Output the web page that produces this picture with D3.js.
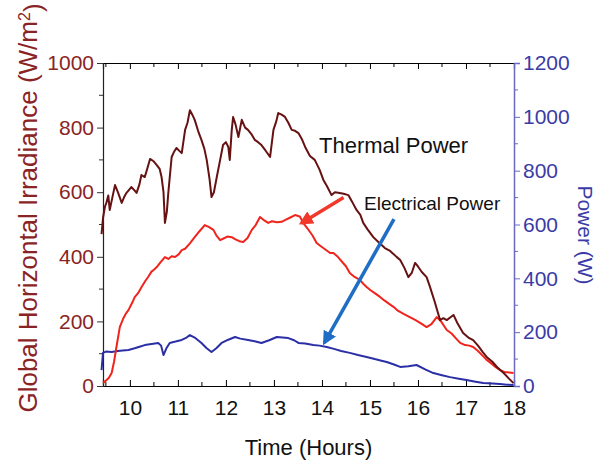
<!DOCTYPE html>
<html>
<head>
<meta charset="utf-8">
<script src="https://cdn.jsdelivr.net/npm/d3@7"></script>
<style>
  body { margin: 0; background: #fff; }
  svg { font-family: "Liberation Sans", Arial, sans-serif; }
</style>
</head>
<body>
<div id="chart"></div>
<script>
// Global horizontal irradiance (W/m2), left axis
var ghiTime = [9.41, 9.44, 9.48, 9.51, 9.55, 9.58, 9.63, 9.69, 9.75, 9.83, 9.88, 9.93, 10.03, 10.1, 10.14, 10.2, 10.24, 10.31, 10.36, 10.42, 10.5, 10.56, 10.62, 10.66, 10.7, 10.73, 10.77, 10.8, 10.87, 10.92, 10.97, 11.03, 11.08, 11.15, 11.2, 11.25, 11.3, 11.35, 11.42, 11.49, 11.55, 11.6, 11.66, 11.7, 11.75, 11.81, 11.88, 11.94, 12.0, 12.05, 12.08, 12.12, 12.15, 12.2, 12.26, 12.33, 12.4, 12.46, 12.53, 12.6, 12.67, 12.74, 12.82, 12.92, 12.99, 13.05, 13.09, 13.16, 13.23, 13.3, 13.37, 13.44, 13.51, 13.58, 13.65, 13.75, 13.85, 13.95, 14.03, 14.1, 14.2, 14.27, 14.34, 14.45, 14.55, 14.63, 14.72, 14.8, 14.86, 14.95, 15.07, 15.18, 15.31, 15.42, 15.56, 15.63, 15.72, 15.8, 15.87, 15.94, 16.0, 16.08, 16.18, 16.25, 16.35, 16.46, 16.53, 16.6, 16.67, 16.74, 16.82, 16.94, 17.05, 17.15, 17.25, 17.35, 17.43, 17.55, 17.65, 17.71, 17.8, 17.9, 17.99];
var ghiValue = [470, 520, 555, 567, 590, 545, 580, 622, 600, 567, 585, 598, 616, 605, 598, 625, 653, 647, 672, 703, 695, 684, 672, 647, 600, 505, 540, 598, 709, 725, 737, 728, 721, 793, 815, 854, 840, 824, 790, 762, 735, 700, 640, 585, 600, 647, 700, 746, 755, 740, 700, 790, 833, 810, 771, 824, 800, 793, 780, 762, 755, 746, 730, 709, 793, 820, 845, 840, 833, 815, 793, 790, 783, 765, 740, 712, 700, 670, 638, 620, 591, 600, 598, 595, 591, 570, 545, 530, 505, 485, 461, 445, 427, 418, 399, 390, 365, 337, 350, 381, 370, 353, 337, 307, 260, 204, 210, 204, 212, 220, 195, 164, 150, 142, 125, 105, 90, 75, 58, 50, 38, 22, 9];

// Thermal power (W), right axis
var thTime = [9.44, 9.5, 9.56, 9.62, 9.67, 9.72, 9.79, 9.86, 9.92, 9.97, 10.05, 10.1, 10.17, 10.25, 10.32, 10.38, 10.45, 10.5, 10.56, 10.64, 10.73, 10.8, 10.87, 10.94, 11.02, 11.08, 11.15, 11.25, 11.35, 11.45, 11.56, 11.65, 11.74, 11.8, 11.88, 11.95, 12.03, 12.12, 12.2, 12.28, 12.36, 12.45, 12.54, 12.62, 12.71, 12.8, 12.88, 12.96, 13.06, 13.16, 13.25, 13.33, 13.44, 13.54, 13.61, 13.7, 13.8, 13.89, 13.97, 14.05, 14.17, 14.24, 14.33, 14.44, 14.5, 14.58, 14.68, 14.79, 14.86, 14.93, 15.02, 15.1, 15.21, 15.3, 15.4, 15.49, 15.58, 15.7, 15.83, 15.95, 16.07, 16.18, 16.28, 16.39, 16.48, 16.6, 16.7, 16.8, 16.88, 16.98, 17.07, 17.15, 17.25, 17.35, 17.43, 17.52, 17.62, 17.71, 17.8, 17.9, 17.99];
var thValue = [11, 20, 30, 48, 90, 145, 219, 250, 270, 282, 310, 330, 345, 370, 390, 405, 425, 432, 442, 460, 479, 472, 482, 479, 490, 505, 510, 530, 553, 575, 598, 590, 580, 560, 542, 548, 555, 553, 545, 538, 535, 550, 580, 598, 628, 615, 606, 612, 608, 610, 618, 625, 635, 630, 606, 585, 560, 531, 520, 510, 494, 494, 480, 457, 445, 420, 405, 394, 380, 368, 355, 345, 331, 318, 305, 294, 280, 268, 256, 245, 232, 219, 230, 256, 240, 208, 195, 175, 160, 152, 150, 145, 130, 112, 97, 85, 70, 59, 52, 50, 48];

// Electrical power (W), right axis
var elTime = [9.41, 9.44, 9.5, 9.62, 9.75, 9.85, 9.97, 10.1, 10.2, 10.31, 10.45, 10.59, 10.65, 10.7, 10.76, 10.83, 10.95, 11.08, 11.18, 11.25, 11.35, 11.49, 11.6, 11.7, 11.8, 11.91, 12.05, 12.19, 12.3, 12.46, 12.6, 12.74, 12.9, 13.06, 13.18, 13.3, 13.42, 13.51, 13.65, 13.82, 13.95, 14.1, 14.25, 14.4, 14.58, 14.75, 14.93, 15.1, 15.22, 15.35, 15.5, 15.63, 15.8, 15.97, 16.15, 16.32, 16.5, 16.67, 16.85, 17.01, 17.2, 17.36, 17.55, 17.71, 17.85, 17.99];
var elValue = [59, 123, 128, 126, 130, 132, 134, 140, 146, 152, 156, 160, 150, 115, 140, 160, 165, 171, 180, 189, 180, 160, 140, 126, 140, 160, 172, 182, 176, 171, 166, 160, 170, 182, 180, 178, 170, 160, 158, 152, 150, 145, 138, 130, 123, 115, 108, 100, 95, 89, 80, 71, 73, 78, 62, 48, 40, 33, 27, 22, 16, 11, 9, 7, 5, 4];

var leftTicks = [0, 200, 400, 600, 800, 1000];
var rightTicks = [0, 200, 400, 600, 800, 1000, 1200];
var hourTicks = [10, 11, 12, 13, 14, 15, 16, 17, 18];

var W = 600, H = 461;
var margin = {top: 63, right: 86, bottom: 75, left: 103};

var svg = d3.select("#chart").append("svg")
    .attr("width", W)
    .attr("height", H);

var x = d3.scaleLinear().domain([9.44, 18]).range([margin.left, W - margin.right]);
var yL = d3.scaleLinear().domain([0, 1000]).range([H - margin.bottom, margin.top]);
var yR = d3.scaleLinear().domain([0, 1200]).range([H - margin.bottom, margin.top]);

var maroon = "#8a2424", blue = "#3b3ba6";
var fmt = d3.format("d");

// bottom axis, ticks pointing inward
var gx = svg.append("g")
    .attr("transform", "translate(0," + (H - margin.bottom) + ")")
    .call(d3.axisBottom(x).tickValues(hourTicks).tickSize(-6).tickFormat(fmt));
gx.selectAll("text").attr("dy", "1.25em").attr("font-size", "21px").attr("fill", "#111");
gx.selectAll(".minor").data(d3.range(9.5, 18, 1)).enter().append("line")
    .attr("class", "minor").attr("x1", x).attr("x2", x)
    .attr("y1", 0).attr("y2", -4).attr("stroke", "#000");
gx.select(".domain").attr("stroke", "#000").attr("stroke-width", 1.2);

// top axis
var gt = svg.append("g")
    .attr("transform", "translate(0," + margin.top + ")")
    .call(d3.axisTop(x).tickValues(hourTicks).tickSize(-6).tickFormat(""));
gt.selectAll(".minor").data(d3.range(9.5, 18, 1)).enter().append("line")
    .attr("x1", x).attr("x2", x).attr("y1", 0).attr("y2", 4).attr("stroke", "#000");
gt.select(".domain").attr("stroke", "#000").attr("stroke-width", 1.2);

// left axis
var gl = svg.append("g")
    .attr("transform", "translate(" + margin.left + ",0)")
    .call(d3.axisLeft(yL).tickValues(leftTicks).tickSize(6).tickPadding(3).tickFormat(fmt));
gl.selectAll("text").attr("font-size", "21px").attr("fill", maroon);
gl.selectAll(".tick line").attr("stroke", "#333");
gl.selectAll(".minor").data(d3.range(100, 1000, 200)).enter().append("line")
    .attr("y1", yL).attr("y2", yL).attr("x1", 0).attr("x2", -4).attr("stroke", "#333");
gl.select(".domain").attr("stroke", "#222").attr("stroke-width", 1.2);

// right axis
var gr = svg.append("g")
    .attr("transform", "translate(" + (W - margin.right) + ",0)")
    .call(d3.axisRight(yR).tickValues(rightTicks).tickSize(6).tickPadding(3).tickFormat(fmt));
gr.selectAll("text").attr("font-size", "21px").attr("fill", blue);
gr.selectAll(".tick line").attr("stroke", "#6a6ac0");
gr.selectAll(".minor").data(d3.range(100, 1200, 200)).enter().append("line")
    .attr("y1", yR).attr("y2", yR).attr("x1", 0).attr("x2", 4).attr("stroke", "#6a6ac0");
gr.select(".domain").attr("stroke", "#6a6ac0").attr("stroke-width", 1.5);

// lines
function drawLine(ts, vs, scale, color) {
  var pts = ts.map(function(t, i) { return [t, vs[i]]; });
  svg.append("path")
    .datum(pts)
    .attr("fill", "none")
    .attr("stroke", color)
    .attr("stroke-width", 2)
    .attr("stroke-linejoin", "round")
    .attr("d", d3.line().x(function(d) { return x(d[0]); }).y(function(d) { return scale(d[1]); }));
}
drawLine(elTime, elValue, yR, "#2b2fa6");
drawLine(thTime, thValue, yR, "#f0241c");
drawLine(ghiTime, ghiValue, yL, "#661212");

// arrows
var defs = svg.append("defs");
function arrowHead(id, color) {
  defs.append("marker")
    .attr("id", id).attr("viewBox", "0 0 10 10")
    .attr("refX", 8).attr("refY", 5)
    .attr("markerWidth", 4).attr("markerHeight", 4)
    .attr("orient", "auto")
    .append("path").attr("d", "M0,0 L10,5 L0,10 Z").attr("fill", color);
}
arrowHead("arR", "#f2382a");
arrowHead("arB", "#1f6ec6");

svg.append("line")
    .attr("x1", x(14.45)).attr("y1", yR(700))
    .attr("x2", x(13.57)).attr("y2", yR(605))
    .attr("stroke", "#f2382a").attr("stroke-width", 3.5)
    .attr("marker-end", "url(#arR)");
svg.append("line")
    .attr("x1", x(15.5)).attr("y1", yR(620))
    .attr("x2", x(14.05)).attr("y2", yR(160))
    .attr("stroke", "#1f6ec6").attr("stroke-width", 3.5)
    .attr("marker-end", "url(#arB)");

svg.append("text")
    .attr("x", 319).attr("y", 153)
    .attr("font-size", "22px").attr("fill", "#111")
    .text("Thermal Power");
svg.append("text")
    .attr("x", 364).attr("y", 210)
    .attr("font-size", "19px").attr("fill", "#111")
    .text("Electrical Power");

// axis titles
var lt = svg.append("text")
    .attr("transform", "translate(37,208) rotate(-90)")
    .attr("text-anchor", "middle")
    .attr("font-size", "26px")
    .attr("fill", maroon);
lt.append("tspan").text("Global Horizontal Irradiance (W/m");
lt.append("tspan").attr("dy", "-0.45em").attr("font-size", "16px").text("2");
lt.append("tspan").attr("dy", "0.45em").text(")");

svg.append("text")
    .attr("transform", "translate(578,235) rotate(90)")
    .attr("text-anchor", "middle")
    .attr("font-size", "21px")
    .attr("fill", blue)
    .text("Power (W)");

svg.append("text")
    .attr("x", (margin.left + W - margin.right) / 2)
    .attr("y", 455)
    .attr("text-anchor", "middle")
    .attr("font-size", "22px")
    .attr("fill", "#111")
    .text("Time (Hours)");
</script>
</body>
</html>
